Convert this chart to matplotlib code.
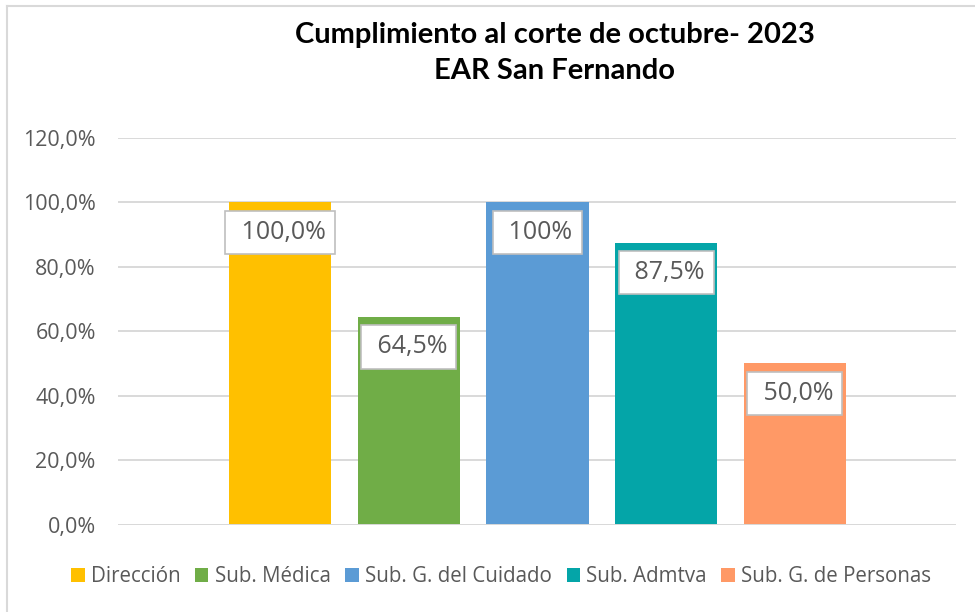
import matplotlib
matplotlib.use("Agg")
import matplotlib.pyplot as plt
from matplotlib.ticker import FuncFormatter, MultipleLocator
from matplotlib.patches import Patch
from matplotlib.lines import Line2D

# ---- data ----
series_names = ["Dirección", "Sub. Médica", "Sub. G. del Cuidado", "Sub. Admtva", "Sub. G. de Personas"]
values = [100.0, 64.5, 100.0, 87.5, 50.0]
value_labels = ["100,0%", "64,5%", "100%", "87,5%", "50,0%"]
colors = ["#FFC000", "#70AD47", "#5B9BD5", "#04A5A8", "#FF9966"]
title_lines = ["Cumplimiento al corte de octubre- 2023", "EAR San Fernando"]

plt.rcParams["font.family"] = ["Open Sans", "DejaVu Sans"]

W, H = 975, 612
fig = plt.figure(figsize=(W / 100, H / 100), dpi=100)
ax = fig.add_axes([118 / W, 1 - 524.5 / H, (956 - 118) / W, (524.5 - 138) / H])

pitch = 1.0
bw = 102 / 128.7
xs = [i * pitch for i in range(len(values))]
ax.bar(xs, values, width=bw, color=colors, zorder=3)

ax.set_xlim(-bw / 2 - 111 / 128.7, xs[-1] + bw / 2 + 110 / 128.7)
ax.set_ylim(0, 120)
ax.yaxis.set_major_locator(MultipleLocator(20))
ax.yaxis.set_major_formatter(FuncFormatter(lambda v, p: f"{v:.1f}%".replace(".", ",")))
ax.tick_params(axis="y", length=0, pad=16, labelsize=15.5, labelcolor="#595959")
ax.set_xticks([])
for s in ax.spines.values():
    s.set_visible(False)
ax.grid(axis="y", color="#D9D9D9", linewidth=1.4, zorder=0)
ax.axhline(0, color="#D9D9D9", linewidth=1.4, zorder=4)

for x, v, lab in zip(xs, values, value_labels):
    ax.annotate(" " + lab, xy=(x, v), xytext=(0, -30), textcoords="offset pixels",
                ha="center", va="center", fontsize=18, color="#595959", zorder=5,
                bbox=dict(boxstyle="square,pad=0.37", fc="white", ec="#BFBFBF", lw=1.2))

fig.text(555 / W, 1 - 53 / H, "\n".join(title_lines), ha="center", va="center",
         fontsize=21, fontweight="bold", color="black", linespacing=1.5, multialignment="center",
         family=["Lato", "DejaVu Sans"])

handles = [Patch(facecolor=c, edgecolor="none") for c in colors]
fig.legend(handles, series_names, loc="center", bbox_to_anchor=(501 / W, 1 - 577 / H), ncol=5,
           frameon=False, fontsize=14.8, labelcolor="#595959", handlelength=0.65, handleheight=0.65,
           handletextpad=0.3, columnspacing=0.72, borderpad=0, borderaxespad=0)

# chart border (top and left visible)
fig.add_artist(Line2D([7 / W, 7 / W], [0, 1 - 5.5 / H], transform=fig.transFigure, color="#D9D9D9", lw=1.5))
fig.add_artist(Line2D([7 / W, 1], [1 - 5.5 / H, 1 - 5.5 / H], transform=fig.transFigure, color="#D9D9D9", lw=1.5))

fig.savefig("out.png", dpi=100)
